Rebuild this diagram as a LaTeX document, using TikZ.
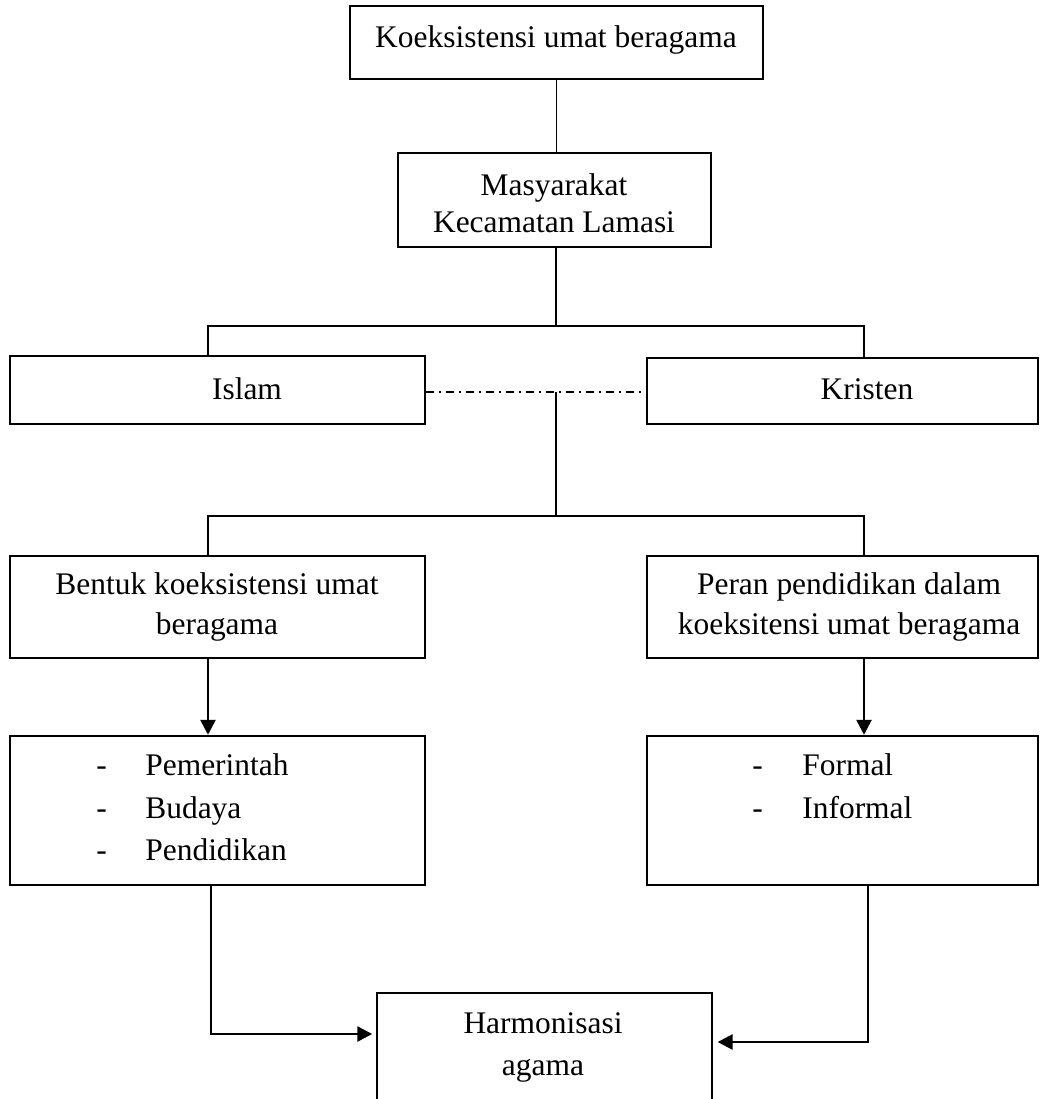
\documentclass[tikz,border=0pt]{standalone}
\usepackage{fontspec}
\setmainfont{Liberation Serif}
\usetikzlibrary{arrows.meta,fit,calc,positioning}

\begin{document}
\begin{tikzpicture}[x=0.02cm,y=-0.02cm]
	\tikzstyle{every node}=[font=\fontsize{17.9}{21}\selectfont]
	\tikzstyle{box}=[draw, line width=1.4pt, inner sep=0pt]
	\tikzstyle{txt}=[anchor=base, inner sep=0pt]
	\tikzstyle{item}=[anchor=base west, inner sep=0pt]
	\tikzstyle{link}=[line width=1.1pt]
	\tikzstyle{arr}=[line width=1.5pt, -{Triangle[length=0.3cm,width=0.3cm]}]
	\useasboundingbox (0,0) rectangle (1040,1099);
	% boxes
	\node [box, fit={(350,6) (763,79)}] (koek) {};
	\node [box, fit={(398,153) (711,247)}] (masy) {};
	\node [box, fit={(10,356) (425,424)}] (islam) {};
	\node [box, fit={(647,358) (1038,424)}] (kristen) {};
	\node [box, fit={(10,556) (425,658)}] (bentuk) {};
	\node [box, fit={(647,556) (1038,658)}] (peran) {};
	\node [box, fit={(10,736) (425,885)}] (listl) {};
	\node [box, fit={(647,736) (1038,885)}] (listr) {};
	\node [box, fit={(377,993) (712,1130)}] (harm) {};
	% texts
	\node [txt] (koekt) at (556,47) {Koeksistensi umat beragama};
	\node [txt] (masyt1) at (554,195) {Masyarakat};
	\node [txt] (masyt2) at (554,232) {Kecamatan Lamasi};
	\node [txt] (islamt) at (247,399) {Islam};
	\node [txt] (kristent) at (867,399) {Kristen};
	\node [txt] (bentukt1) at (217,594) {Bentuk koeksistensi umat};
	\node [txt] (bentukt2) at (217,634) {beragama};
	\node [txt] (perant1) at (849,594) {Peran pendidikan dalam};
	\node [txt] (perant2) at (849,634) {koeksitensi umat beragama};
	\node [item] (d1) at (96,775) {-};
	\node [item] (pem) at (145,775) {Pemerintah};
	\node [item] (d2) at (96,818) {-};
	\node [item] (bud) at (145,818) {Budaya};
	\node [item] (d3) at (96,860) {-};
	\node [item] (pend) at (145,860) {Pendidikan};
	\node [item] (d4) at (752,775) {-};
	\node [item] (form) at (802,775) {Formal};
	\node [item] (d5) at (752,818) {-};
	\node [item] (inform) at (802,818) {Informal};
	\node [txt] (harmt1) at (543,1033) {Harmonisasi};
	\node [txt] (harmt2) at (543,1075) {agama};
	% junctions
	\coordinate (b1) at (556,326);
	\coordinate (b1l) at (208,326);
	\coordinate (b1r) at (864,326);
	\coordinate (dd) at (556,392);
	\coordinate (b2l) at (208,516);
	\coordinate (b2r) at (864,516);
	\coordinate (hl) at (211,1034);
	\coordinate (hr) at (868,1042);
	% connectors
	\draw [link] (koek.south) -- (koek.south |- masy.north);
	\draw [link] (masy.south -| b1) -- (b1);
	\draw [link] (islam.north -| b1l) -- (b1l) -- (b1r) -- (kristen.north -| b1r);
	\draw [line width=0.8pt, dash pattern=on 0.16cm off 0.1cm on 0.04cm off 0.1cm] (islam.east |- dd) -- (kristen.west |- dd);
	\draw [link] (dd) -- (dd |- b2l);
	\draw [link] (bentuk.north -| b2l) -- (b2l) -- (b2r) -- (peran.north -| b2r);
	\draw [arr] (bentuk.south -| b2l) -- (listl.north -| b2l);
	\draw [arr] (peran.south -| b2r) -- (listr.north -| b2r);
	\draw [arr, shorten >=2pt] (listl.south -| hl) -- (hl) -- (harm.west |- hl);
	\draw [arr, shorten >=2.5pt] (listr.south -| hr) -- (hr) -- (harm.east |- hr);
\end{tikzpicture}
\end{document}
